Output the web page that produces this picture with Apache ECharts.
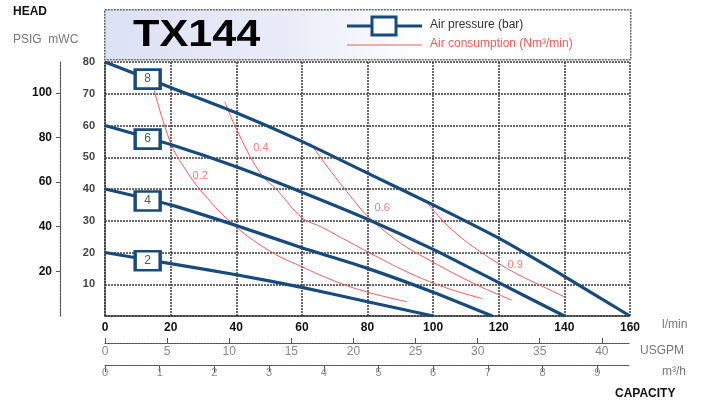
<!DOCTYPE html>
<html><head><meta charset="utf-8">
<script src="https://cdn.jsdelivr.net/npm/echarts@6/dist/echarts.min.js"></script>
<style>html,body{margin:0;padding:0;background:#fff}#c{width:701px;height:406px}</style>
</head><body><div id="c"></div>
<script>
// Air pressure curves (bar): [flow l/min, head mWC]
const pressure8 = [[0,80],[20,72],[40,64],[60,55],[80,45],[100,35],[120,24.5],[140,12.5],[160,0]];
const pressure6 = [[0,60],[20,54],[40,47],[60,39],[80,30.5],[100,21],[120,10.5],[140,0]];
const pressure4 = [[0,40],[20,35],[40,28.5],[60,21.5],[80,15],[100,7.5],[118,0]];
const pressure2 = [[0,20],[20,16.5],[40,13],[60,9],[80,4.5],[100,0]];
const pressureLabels = [[13,74.6,'8'],[13,55.7,'6'],[13,36.2,'4'],[13,17.4,'2']];
// Air consumption curves (Nm3/min)
const air02 = [[15,71],[20,54.5],[24,47],[30,38.5],[40,28],[51,20],[60,15.5],[70,11],[80,7.5],[92,4.5]];
const air04 = [[36.5,67.5],[40,59],[47,45.5],[53,39],[60,31],[66,28],[75,23],[85,17.5],[95,12.5],[105,8.5],[115,5.5]];
const air06 = [[62.5,54.5],[66,49.5],[70,44],[75,37.5],[80,31.5],[90,23],[99,17.5],[108,12.5],[116,8.5],[124,5]];
const air09 = [[98,36],[102,31],[107,26],[114,20.5],[120,16.5],[126,13],[133,9.5],[140,6]];
const airLabels = [[29,44,'0.2'],[47.5,53,'0.4'],[84.5,34,'0.6'],[125,16,'0.9']];
// Axis ticks
const lminTicks = [0,20,40,60,80,100,120,140,160];
const mwcTicks = [10,20,30,40,50,60,70,80];
const psigTicks = [20,40,60,80,100];
const usgpmTicks = [0,5,10,15,20,25,30,35,40];
const m3hTicks = [0,1,2,3,4,5,6,7,8,9];

const FONT = '"Liberation Sans", Arial, sans-serif';
const BLUE = '#164b7c';
const RED = '#f25a5a';
const GRID = '#3a3a3a';
const LMIN_MAX = 160, MWC_MAX = 80;

const chart = echarts.init(document.getElementById('c'));
const pLine = (d) => ({type:'line', data:d, smooth:0.25, symbol:'none', lineStyle:{color:BLUE, width:3.2}, z:3});
const aLine = (d) => ({type:'line', data:d, smooth:0.4, symbol:'none', lineStyle:{color:RED, width:1}, z:2});

chart.setOption({
  animation:false,
  textStyle:{fontFamily:FONT},
  grid:{left:105, top:62, right:71, bottom:90},
  xAxis:[
    {type:'value', min:0, max:LMIN_MAX, interval:20, position:'bottom',
     axisLine:{show:true, onZero:false, lineStyle:{color:GRID, width:1.5, type:[2,1]}},
     axisTick:{show:false},
     axisLabel:{color:'#111', fontWeight:'bold', fontSize:12, margin:6, customValues:lminTicks},
     splitLine:{show:true, lineStyle:{color:GRID, width:1.5, type:[2,1]}}},
    {type:'value', min:0, max:LMIN_MAX/3.78541, position:'bottom', offset:27,
     axisLine:{show:true, onZero:false, lineStyle:{color:'#555', width:1.2, type:[2,1]}},
     axisTick:{show:true, inside:true, length:5, lineStyle:{color:'#555'}, customValues:usgpmTicks},
     axisLabel:{color:'#888', fontSize:12, margin:3, customValues:usgpmTicks},
     splitLine:{show:false}},
    {type:'value', min:0, max:LMIN_MAX*0.06, position:'bottom', offset:49,
     axisLine:{show:true, onZero:false, lineStyle:{color:'#555', width:1.2, type:[2,1]}},
     axisTick:{show:true, length:7, lineStyle:{color:'#555'}, customValues:m3hTicks},
     axisLabel:{color:'#888', fontSize:11, margin:2, customValues:m3hTicks},
     splitLine:{show:false}}
  ],
  yAxis:[
    {type:'value', min:0, max:MWC_MAX, interval:10,
     axisLine:{show:true, onZero:false, lineStyle:{color:GRID, width:1.5, type:[2,1]}},
     axisTick:{show:false},
     axisLabel:{color:'#444', fontWeight:'bold', fontSize:11, margin:10, customValues:mwcTicks},
     splitLine:{show:true, lineStyle:{color:GRID, width:1.5, type:[2,1]}}},
    {type:'value', min:0, max:MWC_MAX/0.70307, position:'left', offset:45,
     axisLine:{show:true, onZero:false, lineStyle:{color:'#555', width:1.2, type:[2,1]}},
     axisTick:{show:true, length:4, lineStyle:{color:'#555'}, customValues:psigTicks},
     axisLabel:{color:'#111', fontWeight:'bold', fontSize:12, margin:8, customValues:psigTicks},
     splitLine:{show:false}}
  ],
  series:[
    aLine(air02), aLine(air04), aLine(air06), aLine(air09),
    pLine(pressure8), pLine(pressure6), pLine(pressure4), pLine(pressure2),
    {type:'scatter', data:pressureLabels, symbol:'rect', symbolSize:[25,19], z:5,
     itemStyle:{color:'#fff', borderColor:BLUE, borderWidth:3, opacity:1},
     label:{show:true, position:'inside', formatter:(p)=>p.data[2], color:'#555', fontSize:12}},
    {type:'scatter', data:airLabels, symbolSize:0, z:4,
     label:{show:true, position:'inside', formatter:(p)=>p.data[2], color:RED, fontSize:11}}
  ],
  graphic:[
    {type:'rect', left:104, top:9, z:1, shape:{width:526, height:50},
     style:{fill:new echarts.graphic.LinearGradient(0,0,1,0,[{offset:0,color:'#dce1f4'},{offset:0.35,color:'#e9ecf8'},{offset:0.6,color:'#ffffff'},{offset:1,color:'#ffffff'}]),
            stroke:'#666', lineWidth:1.5, lineDash:[2,1]}},
    {type:'text', left:133, top:18, z:2, scaleX:1.2,
     style:{text:'TX144', font:'bold 36px '+FONT, fill:'#000'}},
    {type:'line', z:2, shape:{x1:347, y1:26, x2:422, y2:26}, style:{stroke:BLUE, lineWidth:3}},
    {type:'rect', z:3, shape:{x:372, y:17, width:24, height:18}, style:{fill:'#fff', stroke:BLUE, lineWidth:3}},
    {type:'text', z:2, left:430, top:19, style:{text:'Air pressure (bar)', font:'12px '+FONT, fill:'#333'}},
    {type:'line', z:2, shape:{x1:347, y1:45, x2:422, y2:45}, style:{stroke:RED, lineWidth:1}},
    {type:'text', z:2, left:430, top:38, style:{text:'Air consumption (Nm³/min)', font:'12px '+FONT, fill:RED}},
    {type:'text', left:13, top:6, style:{text:'HEAD', font:'bold 12px '+FONT, fill:'#111'}},
    {type:'text', left:13, top:34, style:{text:'PSIG  mWC', font:'12px '+FONT, fill:'#777'}},
    {type:'text', left:662, top:319, style:{text:'l/min', font:'12px '+FONT, fill:'#777'}},
    {type:'text', left:640, top:345, style:{text:'USGPM', font:'12px '+FONT, fill:'#777'}},
    {type:'text', left:662, top:366, style:{text:'m³/h', font:'12px '+FONT, fill:'#777'}},
    {type:'text', left:615, top:388, style:{text:'CAPACITY', font:'bold 12px '+FONT, fill:'#111'}}
  ]
});
</script></body></html>
